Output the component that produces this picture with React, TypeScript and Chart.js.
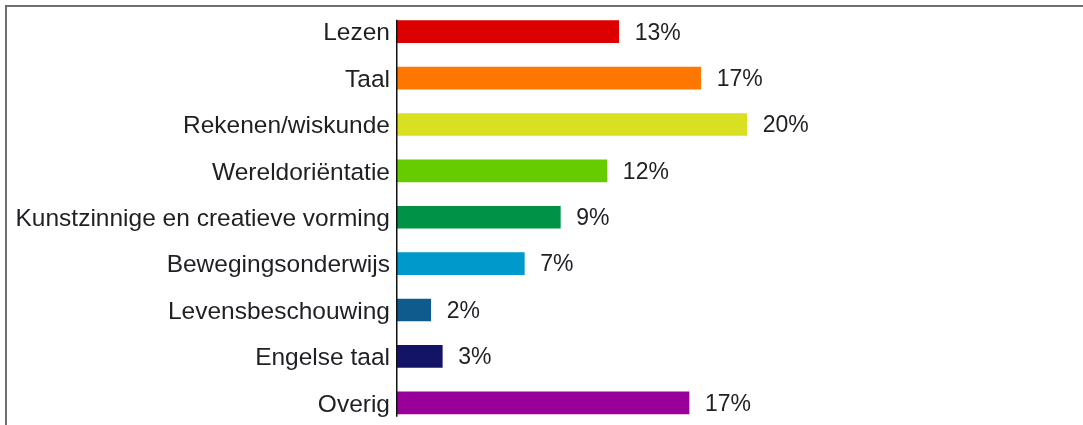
import React, { useEffect, useRef } from "react";
import { Chart, registerables } from "chart.js";

Chart.register(...registerables);

const categories = [
  "Lezen",
  "Taal",
  "Rekenen/wiskunde",
  "Wereldoriëntatie",
  "Kunstzinnige en creatieve vorming",
  "Bewegingsonderwijs",
  "Levensbeschouwing",
  "Engelse taal",
  "Overig",
];
const values = [12.68, 17.37, 20.0, 12.0, 9.34, 7.28, 1.93, 2.59, 16.7];
const valueLabels = ["13%", "17%", "20%", "12%", "9%", "7%", "2%", "3%", "17%"];
const colors = [
  "#DD0000",
  "#FF7700",
  "#D9E021",
  "#66CC00",
  "#009245",
  "#0099CC",
  "#0F5B8E",
  "#141466",
  "#990099",
];

const FONT = "'Liberation Sans', Arial, sans-serif";
const TEXT = "#1f1f24";

const extrasPlugin = {
  id: "extras",
  afterDatasetsDraw(chart: any) {
    const ctx = chart.ctx;
    const meta = chart.getDatasetMeta(0);
    const bars = meta.data;
    if (!bars.length) return;
    const left = chart.chartArea.left;
    // axis line
    const first = bars[0];
    const last = bars[bars.length - 1];
    const top = first.y - first.height / 2 - 1;
    const bottom = last.y + last.height / 2 + 3;
    ctx.save();
    ctx.strokeStyle = "#111";
    ctx.lineWidth = 1.5;
    ctx.beginPath();
    ctx.moveTo(left - 0.25, top);
    ctx.lineTo(left - 0.25, bottom);
    ctx.stroke();
    // value labels
    ctx.fillStyle = TEXT;
    ctx.font = `23px ${FONT}`;
    ctx.textAlign = "left";
    ctx.textBaseline = "middle";
    bars.forEach((b: any, i: number) => {
      ctx.fillText(valueLabels[i], b.x + 16, b.y + 1.5);
    });
    ctx.restore();
  },
};

export default function App() {
  const ref = useRef<HTMLCanvasElement | null>(null);
  useEffect(() => {
    if (!ref.current) return;
    const chart = new Chart(ref.current, {
      type: "bar",
      data: {
        labels: categories,
        datasets: [
          {
            data: values,
            backgroundColor: colors,
            borderWidth: 0,
            barThickness: 22,
          },
        ],
      },
      options: {
        indexAxis: "y",
        animation: false,
        responsive: false,
        maintainAspectRatio: false,
        layout: { padding: { top: 8.5, bottom: 14, left: 0, right: 4 } },
        plugins: {
          legend: { display: false },
          tooltip: { enabled: false },
        },
        scales: {
          x: {
            display: false,
            min: 0,
            max: 39,
          },
          y: {
            afterFit: (scale: any) => {
              scale.width = 397;
              scale.paddingTop = 0;
              scale.paddingBottom = 0;
            },
            grid: { display: false, drawTicks: false },
            border: { display: false },
            ticks: {
              color: TEXT,
              padding: 7,
              labelOffset: 2,
              font: { family: FONT, size: 24.5 },
            },
          },
        },
      },
      plugins: [extrasPlugin],
    });
    return () => chart.destroy();
  }, []);

  return (
    <div
      style={{
        position: "absolute",
        left: 0,
        top: 0,
        width: 1083,
        height: 425,
        overflow: "hidden",
        background: "#fff",
      }}
    >
      <div
        style={{
          position: "absolute",
          left: 5,
          top: 5,
          width: 1100,
          height: 440,
          borderTop: "2px solid #707070",
          borderLeft: "2px solid #707070",
        }}
      />
      <canvas
        ref={ref}
        width={1083}
        height={440}
        style={{ position: "absolute", left: 0, top: 0, width: 1083, height: 440 }}
      />
    </div>
  );
}
